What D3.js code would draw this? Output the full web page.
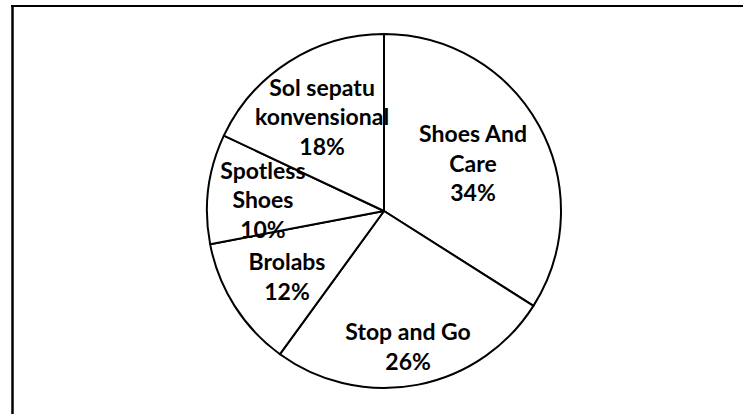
<!DOCTYPE html>
<html>
<head>
<meta charset="utf-8">
<script src="https://cdn.jsdelivr.net/npm/d3@7"></script>
<style>
  body { margin: 0; background: #fff; }
  svg { display: block; }
</style>
</head>
<body>
<svg width="743" height="414"></svg>
<script>
const categories = ["Shoes And Care", "Stop and Go", "Brolabs", "Spotless Shoes", "Sol sepatu konvensional"];
const values = [34, 26, 12, 10, 18];
// label lines for each slice
const labelLines = [
    ["Shoes And", "Care", "34%"],
    ["Stop and Go", "26%"],
    ["Brolabs", "12%"],
    ["Spotless", "Shoes", "10%"],
    ["Sol sepatu", "konvensional", "18%"]
];
// label centre offsets as fraction of radius (x, y) from the pie centre
const labelPos = [[0.503, -0.266], [0.136, 0.768], [-0.548, 0.373], [-0.684, -0.062], [-0.35, -0.531]];

const width = 743, height = 414;
const cx = 384, cy = 211, radius = 177;
const lineGap = 29.5;

const svg = d3.select("svg");

// frame (top and left edges only visible)
svg.append("line")
    .attr("x1", 11).attr("y1", 6).attr("x2", width).attr("y2", 6)
    .attr("stroke", "#000").attr("stroke-width", 2);
svg.append("line")
    .attr("x1", 12.5).attr("y1", 5).attr("x2", 12.5).attr("y2", height)
    .attr("stroke", "#000").attr("stroke-width", 2.5);

const data = categories.map((c, i) => ({ name: c, value: values[i], lines: labelLines[i], pos: labelPos[i] }));

const pie = d3.pie().sort(null).value((d) => d.value);
const arc = d3.arc().innerRadius(0).outerRadius(radius);

const g = svg.append("g").attr("transform", "translate(" + cx + "," + cy + ")");

g.selectAll("path")
    .data(pie(data))
    .enter()
    .append("path")
    .attr("d", arc)
    .attr("fill", "#fff")
    .attr("stroke", "#000")
    .attr("stroke-width", 2)
    .attr("stroke-linejoin", "round");

// Labels
const labels = g.selectAll("text")
    .data(pie(data))
    .enter()
    .append("text")
    .attr("text-anchor", "middle")
    .attr("font-family", "Lato, 'Open Sans', sans-serif")
    .attr("font-weight", "bold")
    .attr("font-size", 23)
    .attr("fill", "#000");

labels.each(function (d) {
    const t = d3.select(this);
    const n = d.data.lines.length;
    const x = d.data.pos[0] * radius;
    const y0 = d.data.pos[1] * radius - (n - 1) * lineGap / 2;
    d.data.lines.forEach((line, i) => {
        t.append("tspan")
            .attr("x", x)
            .attr("y", y0 + i * lineGap)
            .attr("dy", "0.35em")
            .text(line);
    });
});
</script>
</body>
</html>
